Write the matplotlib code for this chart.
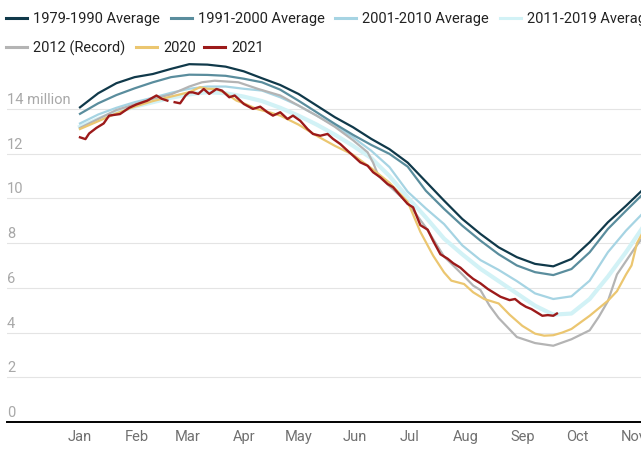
import numpy as np
import matplotlib.pyplot as plt
from matplotlib.lines import Line2D
from matplotlib.transforms import blended_transform_factory

plt.rcParams['font.family'] = ['Roboto', 'DejaVu Sans']

# day of year for the averages (every 10 days)
doy = [1, 11, 21, 31, 41, 51, 61, 71, 81, 91, 101, 111, 121, 131, 141, 151,
       161, 171, 181, 191, 201, 211, 221, 231, 241, 251, 261, 271, 281, 291, 301, 311]

# sea ice extent, million km2
avg_1979_1990 = [14.07, 14.7, 15.15, 15.42, 15.56, 15.79, 16.0, 15.98, 15.89, 15.68, 15.37, 15.07,
                 14.67, 14.15, 13.63, 13.18, 12.66, 12.2, 11.6, 10.75, 9.9, 9.08, 8.41, 7.81,
                 7.37, 7.07, 6.96, 7.29, 8.04, 8.93, 9.67, 10.45]
avg_1991_2000 = [13.78, 14.25, 14.62, 14.92, 15.19, 15.42, 15.53, 15.52, 15.48, 15.35, 15.19, 14.86,
                 14.37, 13.85, 13.33, 12.84, 12.39, 11.99, 11.42, 10.34, 9.53, 8.78, 8.11, 7.5,
                 7.0, 6.7, 6.57, 6.84, 7.59, 8.63, 9.45, 10.25]
avg_2001_2010 = [13.35, 13.75, 14.05, 14.3, 14.5, 14.72, 14.9, 15.0, 15.0, 14.9, 14.82, 14.52,
                 14.15, 13.7, 13.25, 12.73, 12.13, 11.4, 10.3, 9.55, 8.85, 7.9, 7.24, 6.8,
                 6.3, 5.75, 5.5, 5.62, 6.32, 7.59, 8.56, 9.4]
avg_2011_2019 = [13.2, 13.55, 13.85, 14.1, 14.3, 14.5, 14.65, 14.75, 14.7, 14.55, 14.35, 14.05,
                 13.7, 13.3, 12.85, 12.35, 11.8, 11.0, 10.05, 9.15, 8.2, 7.5, 6.85, 6.3,
                 5.75, 5.2, 4.8, 4.85, 5.5, 6.5, 7.6, 8.8]

doy_2012 = [1, 11, 21, 31, 41, 51, 61, 68, 75, 88, 99, 111, 121, 131, 141, 151, 159, 162, 165,
            171, 181, 191, 201, 211, 217, 221, 226, 231, 241, 251, 261, 271, 281, 286, 291,
            296, 301, 306, 311]
ext_2012 = [13.15, 13.55, 13.95, 14.2, 14.45, 14.65, 15.0, 15.19, 15.26, 15.19, 14.89, 14.6,
            14.15, 13.7, 13.2, 12.6, 12.06, 11.6, 11.0, 10.55, 9.8, 8.7, 7.4, 6.6, 6.1, 5.9,
            5.2, 4.65, 3.8, 3.53, 3.41, 3.7, 4.1, 4.7, 5.4, 6.6, 7.2, 7.8, 8.35]

doy_2020 = [1, 11, 21, 31, 41, 51, 61, 67, 71, 76, 81, 87, 91, 98, 105, 111, 121, 131, 141,
            151, 161, 171, 181, 188, 195, 201, 205, 212, 217, 223, 231, 237, 244, 251, 256,
            261, 266, 271, 281, 291, 296, 301, 304, 307, 311]
ext_2020 = [13.1, 13.45, 13.8, 14.1, 14.35, 14.55, 14.75, 14.97, 14.9, 14.89, 14.7, 14.37,
            14.25, 14.0, 13.85, 13.7, 13.3, 12.8, 12.35, 11.95, 11.35, 10.7, 9.85, 8.5, 7.44,
            6.69, 6.32, 6.17, 5.8, 5.5, 5.3, 4.8, 4.3, 3.95, 3.86, 3.88, 4.0, 4.16, 4.75,
            5.42, 5.85, 6.6, 7.0, 8.0, 8.6]

doy_2021 = [1, 4, 6, 10, 14, 17, 23, 28, 32, 38, 43, 46, 49, 51, 53, 56, 59, 61, 63, 66, 69,
            72, 76, 79, 83, 86, 91, 96, 100, 104, 107, 111, 115, 118, 122, 126, 129, 133, 137,
            140, 144, 148, 151, 155, 159, 162, 166, 170, 173, 177, 181, 184, 188, 192, 195,
            199, 203, 206, 210, 214, 217, 221, 225, 228, 232, 237, 240, 243, 246, 249, 252,
            255, 258, 261, 263]
ext_2021 = [12.73, 12.65, 12.9, 13.15, 13.35, 13.7, 13.77, 14.05, 14.2, 14.37, 14.6, 14.45,
            14.37, np.nan, 14.3, 14.25, 14.6, 14.74, 14.74, 14.67, 14.89, 14.67, 14.89, 14.82,
            14.52, 14.6, 14.22, 14.0, 14.1, 13.85, 13.7, 13.85, 13.55, 13.7, 13.47, 13.1,
            12.88, 12.8, 12.88, 12.66, 12.43, 12.13, 11.91, 11.61, 11.46, 11.17, 10.94, 10.64,
            10.5, 10.12, 9.75, 9.6, 8.8, 8.6, 8.1, 7.5, 7.3, 7.1, 6.9, 6.6, 6.4, 6.2, 5.95,
            5.8, 5.6, 5.45, 5.5, 5.3, 5.15, 5.05, 4.9, 4.75, 4.78, 4.75, 4.85]

series = [
    ("2011-2019 Average", doy, avg_2011_2019, "#d2f2f6", 3.0),
    ("2001-2010 Average", doy, avg_2001_2010, "#a6d4e3", 1.6),
    ("1991-2000 Average", doy, avg_1991_2000, "#5a8d9d", 1.6),
    ("1979-1990 Average", doy, avg_1979_1990, "#10394a", 1.6),
    ("2012 (Record)", doy_2012, ext_2012, "#b4b4b4", 1.6),
    ("2020", doy_2020, ext_2020, "#ebc670", 1.6),
    ("2021", doy_2021, ext_2021, "#9c1a1a", 1.7),
]
colors = {name: c for name, _, _, c, _ in series}

month_days = [1, 32, 60, 91, 121, 152, 182, 213, 244, 274, 305]
month_names = ["Jan", "Feb", "Mar", "Apr", "May", "Jun", "Jul", "Aug", "Sep", "Oct", "Nov"]
y_ticks = [0, 2, 4, 6, 8, 10, 12, 14]
y_labels = ["0", "2", "4", "6", "8", "10", "12", "14 million"]

W, H = 641, 460
fig = plt.figure(figsize=(W / 100, H / 100), dpi=100)
ax = fig.add_axes([7 / W, 37 / H, 634 / W, 369 / H])

for name, x, y, c, lw in series:
    ax.plot(x, y, color=c, lw=lw, solid_joinstyle="round")

ax.set_xlim(-39.1, 309.2)
ax.set_ylim(0, 16.5)

for v in y_ticks[1:]:
    ax.axhline(v, color="#e4e4e4", lw=0.8, zorder=0)

trans = blended_transform_factory(ax.transAxes, ax.transData)
for v, lab in zip(y_ticks, y_labels):
    ax.text(0, v + 0.27, lab, transform=trans, ha="left", va="baseline",
            fontsize=10.5, color="#a8a8a8")

ax.set_yticks([])
ax.set_xticks(month_days)
ax.set_xticklabels(month_names, fontsize=10.5, color="#707070")
ax.tick_params(axis="x", length=0, pad=5)
for s in ["top", "right", "left"]:
    ax.spines[s].set_visible(False)
ax.spines["bottom"].set_color("black")
ax.spines["bottom"].set_linewidth(1.4)

# legend drawn by hand: two rows, the first runs off the right edge
legend_rows = [
    (19, [("1979-1990 Average", 6), ("1991-2000 Average", 171),
          ("2001-2010 Average", 335), ("2011-2019 Average", 500)]),
    (48, [("2012 (Record)", 6), ("2020", 136), ("2021", 204)]),
]
for y_px, items in legend_rows:
    yf = 1 - y_px / H
    for name, x_px in items:
        fig.add_artist(Line2D([x_px / W, (x_px + 21) / W], [yf, yf],
                              transform=fig.transFigure, color=colors[name], lw=2.2))
        fig.text((x_px + 27) / W, yf, name, ha="left", va="center",
                 fontsize=10.5, color="#222222")

fig.savefig("out.png", dpi=100)
